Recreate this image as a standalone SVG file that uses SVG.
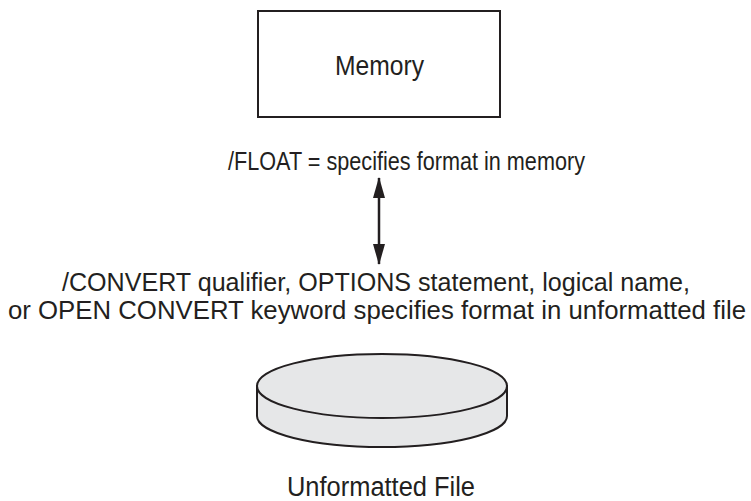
<svg xmlns="http://www.w3.org/2000/svg" width="751" height="501" viewBox="0 0 751 501">
<style>
.t{font-family:"Liberation Sans",Arial,Helvetica,sans-serif;fill:#231f20;text-anchor:middle}
.s{stroke:#231f20;stroke-width:2}
</style>
<defs>
<marker id="ah" viewBox="0 0 21 12" refX="20" refY="6" markerWidth="21" markerHeight="12" markerUnits="userSpaceOnUse" orient="auto-start-reverse">
<path d="M0,0 L21,6 L0,12 Z" fill="#231f20"/>
</marker>
</defs>
<rect width="751" height="501" fill="#ffffff"/>
<g id="memory">
<rect x="258" y="11" width="242" height="106" fill="#ffffff" class="s"/>
<text class="t" x="379.5" y="75" font-size="27" textLength="89" lengthAdjust="spacingAndGlyphs">Memory</text>
</g>
<g id="float-label">
<text class="t" x="406.5" y="170" font-size="25" textLength="357" lengthAdjust="spacingAndGlyphs">/FLOAT = specifies format in memory</text>
</g>
<g id="connectors">
<line x1="379" y1="178" x2="379" y2="264" stroke="#231f20" stroke-width="2.5" marker-start="url(#ah)" marker-end="url(#ah)"/>
</g>
<g id="convert-label">
<text class="t" x="376" y="291" font-size="25" textLength="628" lengthAdjust="spacingAndGlyphs">/CONVERT qualifier, OPTIONS statement, logical name,</text>
<text class="t" x="377" y="319" font-size="25" textLength="738" lengthAdjust="spacingAndGlyphs">or OPEN CONVERT keyword specifies format in unformatted file</text>
</g>
<g id="unformatted-file">
<path d="M257,386 L257,416 A125,31 0 0 0 507,416 L507,386 Z" fill="#e6e7e8" class="s"/>
<ellipse cx="382" cy="386" rx="125" ry="32" fill="#e6e7e8" class="s"/>
<text class="t" x="381" y="496" font-size="27" textLength="188" lengthAdjust="spacingAndGlyphs">Unformatted File</text>
</g>
</svg>
